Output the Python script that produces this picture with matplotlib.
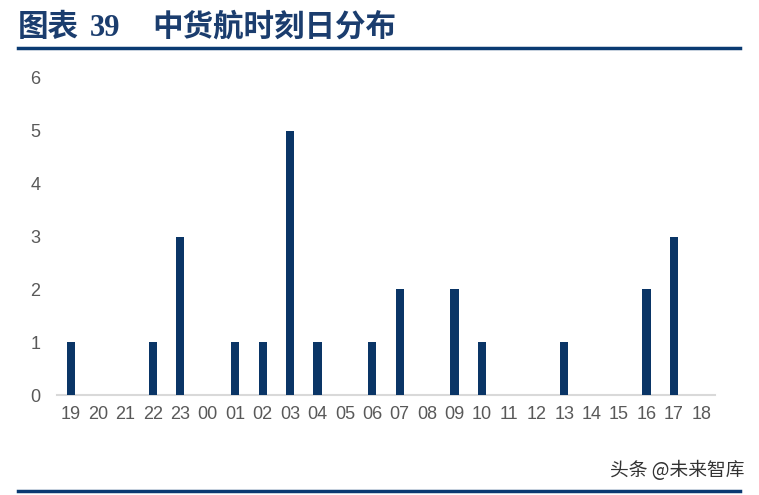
import matplotlib
matplotlib.use("Agg")
import matplotlib.pyplot as plt
from matplotlib.lines import Line2D

hours = ["19","20","21","22","23","00","01","02","03","04","05","06",
         "07","08","09","10","11","12","13","14","15","16","17","18"]
counts = [1,0,0,1,3,0,1,1,5,1,0,1,2,0,2,1,0,0,1,0,0,2,3,0]
yticks = [0,1,2,3,4,5,6]

W, H = 759, 495
fig = plt.figure(figsize=(W/100, H/100), dpi=100)
ax = fig.add_axes([57/W, 1-395/H, (715-57)/W, (395-78)/H])

bar_color = "#0a3566"
ax.bar(range(len(hours)), counts, width=0.3, color=bar_color, zorder=3)
ax.set_xlim(-0.5, len(hours)-0.5)
ax.set_ylim(0, 6)
ax.set_xticks(range(len(hours)))
ax.set_xticklabels(hours)
ax.set_yticks(yticks)
for s in ["top", "right", "left"]:
    ax.spines[s].set_visible(False)
ax.spines["bottom"].set_color("#d9d9d9")
ax.spines["bottom"].set_linewidth(1.5)
ax.tick_params(axis="both", length=0, labelsize=13, labelcolor="#595959")
ax.tick_params(axis="x", pad=8)
ax.tick_params(axis="y", pad=12)
for lab in ax.get_xticklabels() + ax.get_yticklabels():
    lab.set_fontfamily("Liberation Sans")

title_color = "#1b3d6e"
fig.text(18/W, 1-27/H, "图表", fontsize=22, fontweight="bold", color=title_color,
         family=["Noto Sans CJK SC"], va="center", ha="left")
fig.text(90/W, 1-28/H, "39", fontsize=22, fontweight="bold", color=title_color,
         family=["Liberation Serif"], va="center", ha="left")
fig.text(152/W, 1-27/H, "中货航时刻日分布", fontsize=22, fontweight="bold", color=title_color,
         family=["Noto Sans CJK SC"], va="center", ha="left")

fig.add_artist(Line2D([18/W, 740/W], [1-48/H, 1-48/H], color="#0a3a72", lw=2.5))
fig.add_artist(Line2D([18/W, 740/W], [1-491/H, 1-491/H], color="#0a3a72", lw=2.5))

fig.text(745/W, 1-470/H, "头条 @未来智库", fontsize=13.5, color="#333333",
         family=["Noto Sans CJK SC", "DejaVu Sans"], va="center", ha="right")

fig.savefig("out.png", dpi=100)
